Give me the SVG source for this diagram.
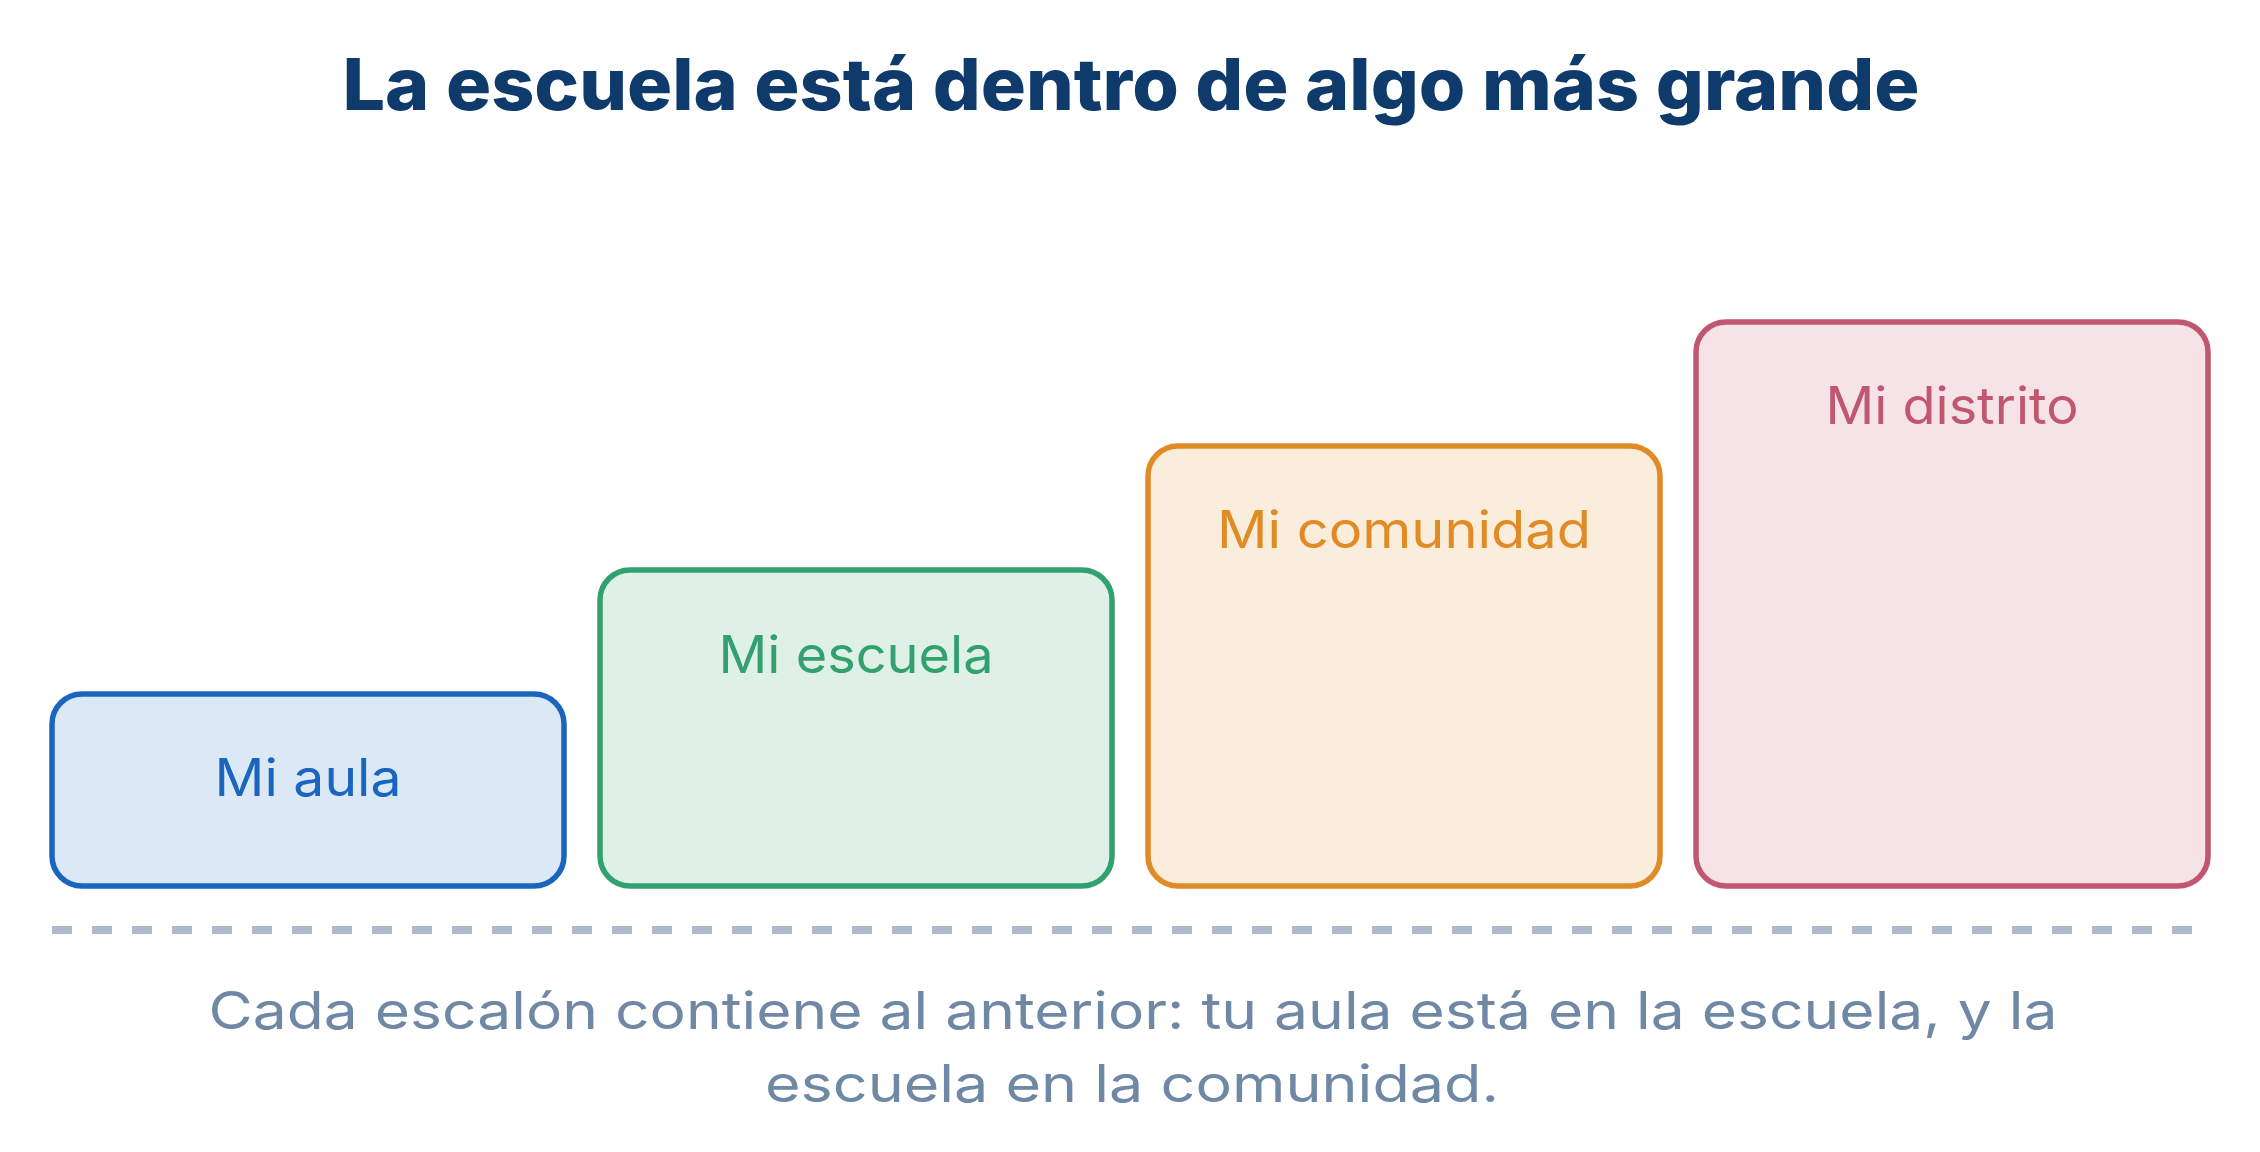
<svg xmlns="http://www.w3.org/2000/svg" width="2260" height="1152" viewBox="0 0 2260 1152">
  <style>
    .title { font-family: Inter, "Open Sans", "Liberation Sans", sans-serif; font-weight: 800; font-size: 72px; fill: #0e3b6b; }
    .label { font-family: Inter, "Open Sans", "Liberation Sans", sans-serif; font-weight: 400; font-size: 52px; }
    .caption { font-family: Inter, "Open Sans", "Liberation Sans", sans-serif; font-weight: 400; font-size: 52px; fill: #6f88a5; }
    .box { stroke-width: 5.5; }
    .blue rect { fill: #dbe8f6; stroke: #1a65be; }
    .blue text { fill: #1a65be; }
    .green rect { fill: #dff1e7; stroke: #33a06f; }
    .green text { fill: #33a06f; }
    .orange rect { fill: #fbeddb; stroke: #e08b25; }
    .orange text { fill: #e08b25; }
    .pink rect { fill: #f5e3e7; stroke: #c0566f; }
    .pink text { fill: #c0566f; }
  </style>
  <rect x="0" y="0" width="2260" height="1152" fill="#ffffff"/>
  <g id="title">
    <text class="title" x="1131" y="110" text-anchor="middle" textLength="1577" lengthAdjust="spacingAndGlyphs">La escuela está dentro de algo más grande</text>
  </g>
  <g id="node-aula" class="blue">
    <rect class="box" x="52" y="694" width="512" height="192" rx="30" ry="30"/>
    <text class="label" x="308" y="796" text-anchor="middle" textLength="187" lengthAdjust="spacingAndGlyphs">Mi aula</text>
  </g>
  <g id="node-escuela" class="green">
    <rect class="box" x="600" y="570" width="512" height="316" rx="30" ry="30"/>
    <text class="label" x="856" y="673" text-anchor="middle" textLength="275" lengthAdjust="spacingAndGlyphs">Mi escuela</text>
  </g>
  <g id="node-comunidad" class="orange">
    <rect class="box" x="1148" y="446" width="512" height="440" rx="30" ry="30"/>
    <text class="label" x="1404" y="548" text-anchor="middle" textLength="374" lengthAdjust="spacingAndGlyphs">Mi comunidad</text>
  </g>
  <g id="node-distrito" class="pink">
    <rect class="box" x="1696" y="322" width="512" height="564" rx="30" ry="30"/>
    <text class="label" x="1952" y="424" text-anchor="middle" textLength="253" lengthAdjust="spacingAndGlyphs">Mi distrito</text>
  </g>
  <g id="connectors">
    <line x1="52" y1="930" x2="2208" y2="930" stroke="#abbbcc" stroke-width="8" stroke-dasharray="20 20"/>
  </g>
  <g id="caption">
    <text class="caption" x="1133" y="1029" text-anchor="middle" textLength="1849" lengthAdjust="spacingAndGlyphs">Cada escalón contiene al anterior: tu aula está en la escuela, y la</text>
    <text class="caption" x="1132" y="1102" text-anchor="middle" textLength="734" lengthAdjust="spacingAndGlyphs">escuela en la comunidad.</text>
  </g>
</svg>
